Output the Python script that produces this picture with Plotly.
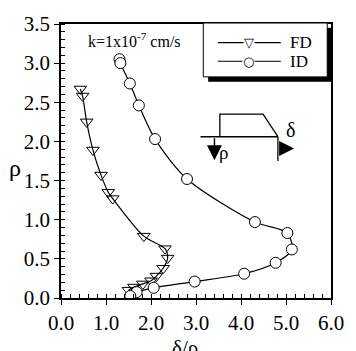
import plotly.graph_objects as go

# FD series (triangles)
fd_x = [0.43, 0.48, 0.57, 0.71, 0.89, 1.05, 1.15, 1.84, 2.31, 2.37, 2.27, 2.12, 2.00, 1.82, 1.62, 1.50]
fd_y = [2.67, 2.58, 2.25, 1.89, 1.57, 1.35, 1.27, 0.79, 0.63, 0.51, 0.38, 0.28, 0.22, 0.18, 0.14, 0.10]
# ID series (circles)
id_x = [1.30, 1.32, 1.53, 1.73, 2.09, 2.80, 4.31, 5.03, 5.13, 4.77, 4.07, 2.97, 2.06, 1.68, 1.54]
id_y = [3.05, 3.00, 2.74, 2.46, 2.03, 1.52, 0.97, 0.83, 0.62, 0.45, 0.31, 0.21, 0.13, 0.075, 0.025]

x_ticks = [0, 1, 2, 3, 4, 5, 6]
y_ticks = [0, 0.5, 1.0, 1.5, 2.0, 2.5, 3.0, 3.5]
series_names = ["FD", "ID"]

FONT = "Times New Roman, Liberation Serif, DejaVu Serif, serif"

fig = go.Figure()
fig.add_trace(go.Scatter(
    x=fd_x, y=fd_y, name=series_names[0], mode="lines+markers", showlegend=False,
    line=dict(color="black", width=1.2, shape="spline", smoothing=0.8),
    marker=dict(symbol="triangle-down-open", size=11, color="black", line=dict(width=1)),
))
fig.add_trace(go.Scatter(
    x=id_x, y=id_y, name=series_names[1], mode="lines+markers", showlegend=False,
    line=dict(color="black", width=1.2, shape="spline", smoothing=0.8),
    marker=dict(symbol="circle", size=11, color="white", line=dict(width=1, color="black")),
))

# inset schematic
sch = dict(color="black", width=1.3)
fig.add_shape(type="path", path="M 3.53 2.06 L 3.53 2.35 L 4.49 2.35 L 4.82 2.06", line=sch, xref="x", yref="y")
fig.add_shape(type="line", x0=3.10, y0=2.06, x1=4.82, y1=2.06, line=sch)
fig.add_shape(type="line", x0=4.82, y0=2.06, x1=4.82, y1=1.75, line=sch)

fig.add_annotation(x=3.41, y=1.76, ax=3.41, ay=2.06, axref="x", ayref="y", xref="x", yref="y",
                   showarrow=True, arrowhead=2, arrowsize=2, arrowwidth=1.5, arrowcolor="black", text="")
fig.add_annotation(x=5.18, y=1.91, ax=4.82, ay=1.91, axref="x", ayref="y", xref="x", yref="y",
                   showarrow=True, arrowhead=2, arrowsize=2, arrowwidth=1.5, arrowcolor="black", text="")
fig.add_annotation(x=3.62, y=1.86, text="ρ", showarrow=False, font=dict(family=FONT, size=19, color="black"))
fig.add_annotation(x=5.1, y=2.14, text="δ", showarrow=False, font=dict(family=FONT, size=20, color="black"))

fig.add_annotation(x=0.56, y=3.29, xanchor="left", yanchor="middle", text="k=1x10<sup>-7</sup> cm/s",
                   showarrow=False, font=dict(family=FONT, size=16, color="black"))

# axis titles
fig.add_annotation(x=0.46, y=-0.13, xref="paper", yref="paper", xanchor="center", yanchor="top",
                   text="δ/ρ", showarrow=False, font=dict(family=FONT, size=21, color="black"))
fig.add_annotation(x=-0.172, y=0.475, xref="paper", yref="paper", xanchor="center", yanchor="middle",
                   text="ρ", showarrow=False, font=dict(family=FONT, size=24, color="black"))

# manual legend box with drop shadow
fig.add_shape(type="rect", xref="paper", yref="paper", x0=0.545, x1=1.004, y0=0.789, y1=0.986,
              fillcolor="black", line=dict(width=0), layer="above")
fig.add_shape(type="rect", xref="paper", yref="paper", x0=0.527, x1=0.986, y0=0.807, y1=1.0036,
              fillcolor="white", line=dict(color="black", width=1), layer="above")
leg_y = [0.932, 0.864]
leg_sym = ["▽", "○"]
for nm, yy, sym in zip(series_names, leg_y, leg_sym):
    fig.add_shape(type="line", xref="paper", yref="paper", x0=0.581, x1=0.814, y0=yy, y1=yy,
                  line=dict(color="black", width=1.2), layer="above")
    fig.add_annotation(x=0.695, y=yy, xref="paper", yref="paper", xanchor="center", yanchor="middle",
                       text=sym, showarrow=False, bgcolor="white", borderpad=0,
                       font=dict(family="DejaVu Sans", size=13, color="black"))
    fig.add_annotation(x=0.846, y=yy, xref="paper", yref="paper", xanchor="left", yanchor="middle",
                       text=nm, showarrow=False, borderpad=0,
                       font=dict(family=FONT, size=17, color="black"))

axis_common = dict(
    showgrid=False, zeroline=False, showline=True, linecolor="black", linewidth=1.6, mirror=True,
    ticks="outside", ticklen=5, tickwidth=1.2, tickcolor="black",
    tickfont=dict(family=FONT, size=21, color="black"), tickformat=".1f",
)
fig.update_xaxes(range=[0, 6], tickvals=x_ticks, **axis_common,
                 minor=dict(dtick=0.2, ticks="inside", ticklen=4, tickcolor="black", tickwidth=1))
fig.update_yaxes(range=[0, 3.5], tickvals=y_ticks, **axis_common,
                 minor=dict(dtick=0.1, ticks="inside", ticklen=4, tickcolor="black", tickwidth=1))

fig.update_layout(
    width=356, height=351,
    margin=dict(l=61, r=16, t=18, b=53),
    plot_bgcolor="white", paper_bgcolor="white",
    showlegend=False,
)

fig.write_html("out.html")
